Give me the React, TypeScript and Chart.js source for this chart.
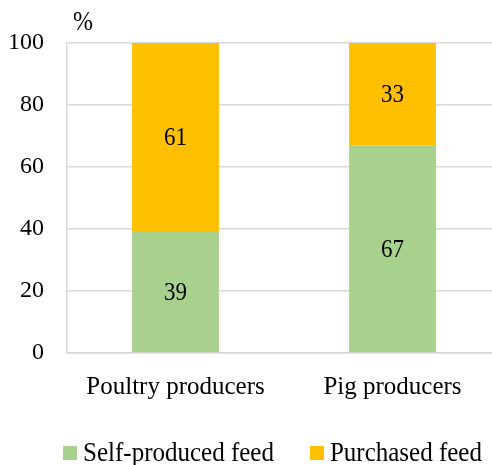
import React, { useEffect, useRef } from "react";
import { Chart, registerables } from "chart.js";

Chart.register(...registerables);

const categories = ["Poultry producers", "Pig producers"];
const seriesNames = ["Self-produced feed", "Purchased feed"];
const selfProduced = [39, 67];
const purchased = [61, 33];
const seriesColors = ["#A9D18E", "#FFC000"];
const yMin = 0;
const yMax = 100;
const yStep = 20;
const unitLabel = "%";

const FONT = "'Liberation Serif', 'Times New Roman', serif";
const STRETCH = 1.12;

function drawText(ctx: CanvasRenderingContext2D, text: string, x: number, y: number) {
  ctx.save();
  ctx.translate(x, y);
  ctx.scale(1, STRETCH);
  ctx.fillText(text, 0, 0);
  ctx.restore();
}

const labelsPlugin = {
  id: "segLabels",
  afterDatasetsDraw(chart: any) {
    const ctx = chart.ctx;
    ctx.save();
    ctx.font = `23px ${FONT}`;
    ctx.fillStyle = "#000";
    ctx.textAlign = "center";
    ctx.textBaseline = "middle";
    chart.data.datasets.forEach((ds: any, i: number) => {
      const meta = chart.getDatasetMeta(i);
      meta.data.forEach((bar: any, j: number) => {
        const { x, y, base } = bar.getProps(["x", "y", "base"], true);
        drawText(ctx, String(ds.data[j]), x, (y + base) / 2 + 1);
      });
    });
    // unit label
    ctx.font = `24px ${FONT}`;
    drawText(ctx, unitLabel, chart.chartArea.left + 16, 23);
    // legend
    ctx.font = `25px ${FONT}`;
    ctx.textAlign = "left";
    const box = 14;
    const boxGap = 6;
    const itemGap = 36;
    const widths = chart.data.datasets.map((d: any) => ctx.measureText(d.label).width);
    const total = widths.reduce((a: number, w: number) => a + box + boxGap + w, 0) + itemGap * (widths.length - 1);
    let x = 272.5 - total / 2;
    const cy = 453;
    chart.data.datasets.forEach((ds: any, i: number) => {
      ctx.fillStyle = ds.backgroundColor;
      ctx.fillRect(x, cy - box / 2, box, box);
      ctx.fillStyle = "#000";
      drawText(ctx, ds.label, x + box + boxGap, cy + 1);
      x += box + boxGap + widths[i] + itemGap;
    });
    ctx.restore();
  },
};

export default function App() {
  const ref = useRef<HTMLCanvasElement | null>(null);
  useEffect(() => {
    if (!ref.current) return;
    const chart = new Chart(ref.current, {
      type: "bar",
      data: {
        labels: categories,
        datasets: [
          { label: seriesNames[0], data: selfProduced, backgroundColor: seriesColors[0], borderWidth: 0 },
          { label: seriesNames[1], data: purchased, backgroundColor: seriesColors[1], borderWidth: 0 },
        ],
      },
      options: {
        responsive: false,
        animation: false,
        devicePixelRatio: 1,
        layout: { padding: { left: 0, right: 0, top: 43, bottom: 50 } },
        plugins: {
          legend: { display: false },
          tooltip: { enabled: false },
        },
        datasets: { bar: { barPercentage: 0.4, categoryPercentage: 1 } },
        scales: {
          x: {
            stacked: true,
            grid: { display: false },
            border: { display: true, color: "#D9D9D9", width: 1.5 },
            ticks: { color: "#000", font: { family: FONT, size: 25 }, padding: 11, maxRotation: 0, autoSkip: false },
            afterFit: (s: any) => { s.height = 62; },
          },
          y: {
            stacked: true,
            min: yMin,
            max: yMax,
            ticks: { stepSize: yStep, color: "#000", font: { family: FONT, size: 24 }, padding: 23 },
            grid: { color: "#D9D9D9", lineWidth: 1.5, drawTicks: false },
            border: { display: true, color: "#D9D9D9", width: 1.5 },
            afterFit: (s: any) => { s.width = 67; },
          },
        },
      },
      plugins: [labelsPlugin],
    });
    return () => chart.destroy();
  }, []);
  return (
    <div style={{ position: "fixed", left: 0, top: 0, width: 492, height: 465, overflow: "hidden", background: "#fff" }}>
      <canvas ref={ref} width={501} height={465} style={{ display: "block" }} />
    </div>
  );
}
